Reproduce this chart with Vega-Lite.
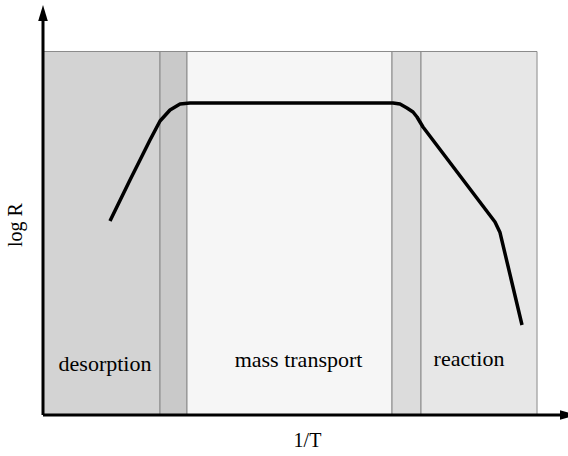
{
  "$schema": "https://vega.github.io/schema/vega-lite/v6.json",
  "width": 525,
  "height": 410,
  "autosize": {"type": "none"},
  "padding": {"left": 43, "top": 5, "right": 0, "bottom": 41},
  "background": "white",
  "config": {"view": {"stroke": null}},
  "datasets": {
    "regions": [
      {"region": "desorption", "x0": 0, "x1": 2.229, "y0": 0, "y1": 8.866},
      {"region": "overlap left", "x0": 2.229, "x1": 2.743, "y0": 0, "y1": 8.866},
      {"region": "mass transport", "x0": 2.743, "x1": 6.648, "y0": 0, "y1": 8.866},
      {"region": "overlap right", "x0": 6.648, "x1": 7.2, "y0": 0, "y1": 8.866},
      {"region": "reaction", "x0": 7.2, "x1": 9.41, "y0": 0, "y1": 8.866}
    ],
    "curve": [
      {"x": 1.276, "y": 4.732},
      {"x": 1.657, "y": 5.732},
      {"x": 1.848, "y": 6.22},
      {"x": 2.038, "y": 6.707},
      {"x": 2.229, "y": 7.171},
      {"x": 2.419, "y": 7.439},
      {"x": 2.61, "y": 7.585},
      {"x": 2.8, "y": 7.61},
      {"x": 6.667, "y": 7.61},
      {"x": 6.8, "y": 7.585},
      {"x": 6.933, "y": 7.488},
      {"x": 7.048, "y": 7.39},
      {"x": 7.124, "y": 7.268},
      {"x": 7.238, "y": 7.024},
      {"x": 8.61, "y": 4.707},
      {"x": 8.705, "y": 4.45},
      {"x": 9.124, "y": 2.195}
    ],
    "labels": [
      {"text": "desorption", "x": 1.181, "y": 1.081},
      {"text": "mass transport", "x": 4.867, "y": 1.178},
      {"text": "reaction", "x": 8.114, "y": 1.195}
    ],
    "axes": [
      {"x": 0, "y": 0, "x2": 10, "y2": 0},
      {"x": 0, "y": 0, "x2": 0, "y2": 9.7}
    ]
  },
  "layer": [
    {
      "data": {"name": "regions"},
      "mark": {"type": "rect", "stroke": "#8a8a8a", "strokeWidth": 1},
      "encoding": {
        "x": {"field": "x0", "type": "quantitative", "scale": {"domain": [0, 10], "nice": false, "zero": false}, "axis": null},
        "x2": {"field": "x1"},
        "y": {"field": "y0", "type": "quantitative", "scale": {"domain": [0, 10], "nice": false, "zero": false}, "axis": null},
        "y2": {"field": "y1"},
        "color": {
          "field": "region", "type": "nominal", "legend": null,
          "scale": {
            "domain": ["desorption", "overlap left", "mass transport", "overlap right", "reaction"],
            "range": ["#d3d3d3", "#c9c9c9", "#f6f6f6", "#dcdcdc", "#e7e7e7"]
          }
        }
      }
    },
    {
      "data": {"name": "curve"},
      "mark": {"type": "line", "color": "black", "strokeWidth": 3.5, "strokeJoin": "round", "strokeCap": "butt"},
      "encoding": {
        "x": {"field": "x", "type": "quantitative", "scale": {"domain": [0, 10], "nice": false, "zero": false}, "axis": null},
        "y": {"field": "y", "type": "quantitative", "scale": {"domain": [0, 10], "nice": false, "zero": false}, "axis": null},
        "order": {"value": null}
      }
    },
    {
      "data": {"name": "labels"},
      "mark": {"type": "text", "font": "Liberation Serif", "fontSize": 22, "align": "center", "baseline": "alphabetic", "color": "black"},
      "encoding": {
        "x": {"field": "x", "type": "quantitative", "scale": {"domain": [0, 10], "nice": false, "zero": false}, "axis": null},
        "y": {"field": "y", "type": "quantitative", "scale": {"domain": [0, 10], "nice": false, "zero": false}, "axis": null},
        "text": {"field": "text"}
      }
    },
    {
      "data": {"values": [{"text": "1/T", "x": 5.038, "y": -0.78}]},
      "mark": {"type": "text", "font": "Liberation Serif", "fontSize": 20, "align": "center", "baseline": "alphabetic", "color": "black"},
      "encoding": {
        "x": {"field": "x", "type": "quantitative", "scale": {"domain": [0, 10], "nice": false, "zero": false}, "axis": null},
        "y": {"field": "y", "type": "quantitative", "scale": {"domain": [0, 10], "nice": false, "zero": false}, "axis": null},
        "text": {"field": "text"}
      }
    },
    {
      "data": {"values": [{"text": "log R", "x": -0.4, "y": 4.634}]},
      "mark": {"type": "text", "font": "Liberation Serif", "fontSize": 20, "align": "center", "baseline": "alphabetic", "angle": 270, "color": "black"},
      "encoding": {
        "x": {"field": "x", "type": "quantitative", "scale": {"domain": [0, 10], "nice": false, "zero": false}, "axis": null},
        "y": {"field": "y", "type": "quantitative", "scale": {"domain": [0, 10], "nice": false, "zero": false}, "axis": null},
        "text": {"field": "text"}
      }
    },
    {
      "data": {"name": "axes"},
      "mark": {"type": "rule", "color": "black", "strokeWidth": 3},
      "encoding": {
        "x": {"field": "x", "type": "quantitative", "scale": {"domain": [0, 10], "nice": false, "zero": false}, "axis": null},
        "y": {"field": "y", "type": "quantitative", "scale": {"domain": [0, 10], "nice": false, "zero": false}, "axis": null},
        "x2": {"field": "x2"},
        "y2": {"field": "y2"}
      }
    },
    {
      "data": {"values": [{"x": 0, "y": 9.805}]},
      "mark": {"type": "point", "shape": "M0,-1L0.6,1L-0.6,1Z", "size": 256, "filled": true, "color": "black", "opacity": 1},
      "encoding": {
        "x": {"field": "x", "type": "quantitative", "scale": {"domain": [0, 10], "nice": false, "zero": false}, "axis": null},
        "y": {"field": "y", "type": "quantitative", "scale": {"domain": [0, 10], "nice": false, "zero": false}, "axis": null}
      }
    },
    {
      "data": {"values": [{"x": 10, "y": 0}]},
      "mark": {"type": "point", "shape": "M1,0L-1,0.6L-1,-0.6Z", "size": 256, "filled": true, "color": "black", "opacity": 1},
      "encoding": {
        "x": {"field": "x", "type": "quantitative", "scale": {"domain": [0, 10], "nice": false, "zero": false}, "axis": null},
        "y": {"field": "y", "type": "quantitative", "scale": {"domain": [0, 10], "nice": false, "zero": false}, "axis": null}
      }
    }
  ]
}
